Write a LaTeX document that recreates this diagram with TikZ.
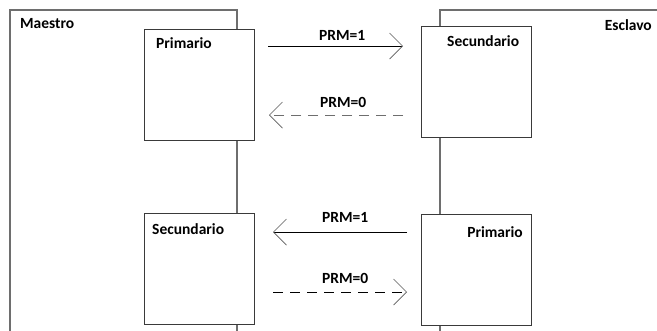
\documentclass[tikz,border=0pt]{standalone}
\usepackage{fontspec}
\setmainfont{Carlito}
\usetikzlibrary{arrows.meta}
\definecolor{frame}{HTML}{6E6E6E}
\definecolor{boxline}{HTML}{3A3A3A}
\definecolor{tipgray}{HTML}{5A5A5A}
\tikzset{
  outer/.style={draw=frame, line width=1.1pt},
  msgbox/.style={draw=boxline, fill=white, line width=1pt, minimum width=110pt, minimum height=111pt, inner sep=0pt},
  lbl/.style={font=\fontsize{15.5}{18}\selectfont\bfseries, inner sep=0pt, text=black},
  tip/.style={-{Straight Barb[length=13pt,width=26pt,line width=0.7pt,color=tipgray]}},
  solidmsg/.style={tip, draw=black, line width=0.9pt},
  dashmsg/.style={tip, line width=0.9pt, dash pattern=on 10pt off 7pt},
}
\begin{document}
\begin{tikzpicture}[x=1pt,y=-1pt]
\useasboundingbox (0,0) rectangle (657,330);
\clip (0,0) rectangle (657,330);
\fill[white] (0,0) rectangle (657,330);
% outer frames
\draw[outer] (10,345) -- (10,10) -- (237,10) -- (237,345);
\draw[outer] (440,345) -- (440,10) -- (670,10);
\node[lbl, anchor=west] (maestro) at (20,24) {Maestro};
\node[lbl, anchor=east] (esclavo) at (652,25) {Esclavo};
% boxes
\node[msgbox] (prim1) at (199,84.5) {};
\node[msgbox] (sec1) at (476.5,81.5) {};
\node[msgbox] (sec2) at (199,268.5) {};
\node[msgbox] (prim2) at (476.5,270) {};
\node[lbl, anchor=west] (tprim1) at (156,43) {Primario};
\node[lbl, anchor=west] (tsec1) at (447,41) {Secundario};
\node[lbl, anchor=west] (tsec2) at (152,229) {Secundario};
\node[lbl, anchor=east] (tprim2) at (523,232) {Primario};
% arrow end points
\coordinate (a1s) at (268,46);  \coordinate (a1e) at (403,46);
\coordinate (a2s) at (403,115); \coordinate (a2e) at (269,115);
\coordinate (a3s) at (407,232); \coordinate (a3e) at (273,232);
\coordinate (a4s) at (273,292); \coordinate (a4e) at (407,292);
\draw[solidmsg] (a1s) -- (a1e);
\draw[dashmsg, draw=frame] (a2s) -- (a2e);
\draw[solidmsg] (a3s) -- (a3e);
\draw[dashmsg, draw=black] (a4s) -- (a4e);
\node[lbl, anchor=west] (l1) at (319,35) {PRM=1};
\node[lbl, anchor=west] (l2) at (320,102) {PRM=0};
\node[lbl, anchor=west] (l3) at (322,217) {PRM=1};
\node[lbl, anchor=west] (l4) at (322,278) {PRM=0};
\end{tikzpicture}
\end{document}
